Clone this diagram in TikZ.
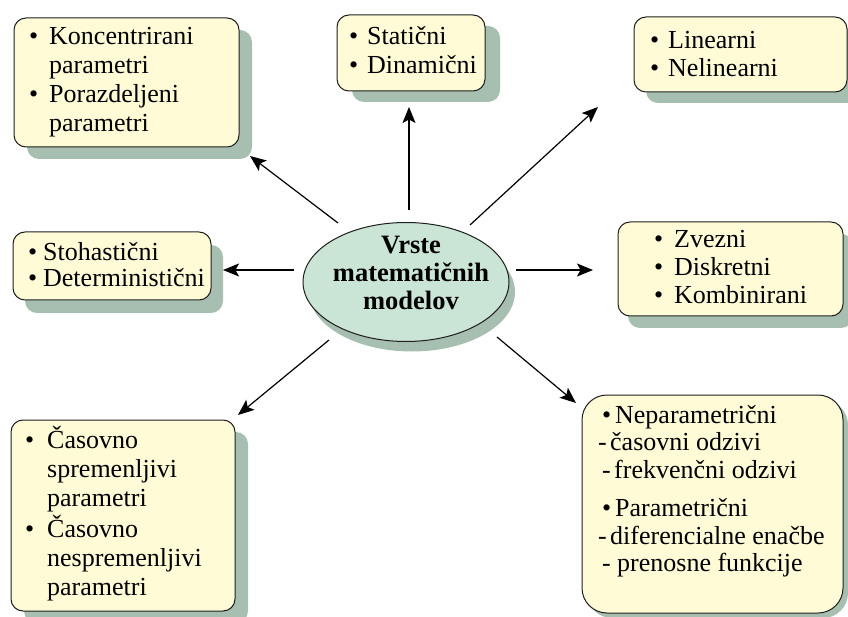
\documentclass[tikz,border=0pt]{standalone}
\usepackage{fontspec}
\setmainfont{Liberation Serif}
\usetikzlibrary{arrows.meta,shadows,shapes.geometric}
\definecolor{boxfill}{RGB}{255,251,214}
\definecolor{shadowc}{RGB}{166,191,176}
\definecolor{ellfill}{RGB}{202,229,213}
\definecolor{linec}{RGB}{30,30,30}
\newcommand\mybul[1]{\makebox[#1][l]{\textbullet}}
\newcommand\mydash[1]{\makebox[#1][l]{-}}
\begin{document}
\begin{tikzpicture}[x=1pt,y=-1pt,
  cbox/.style args={#1/#2}{draw=linec, line width=1pt, fill=boxfill, rounded corners=12pt, inner sep=0pt,
     drop shadow={shadow xshift=#1pt, shadow yshift=-#2pt, fill=shadowc, opacity=1}},
  ell/.style={ellipse, draw=linec, line width=1pt, fill=ellfill, inner sep=0pt,
     drop shadow={shadow xshift=6pt, shadow yshift=-10pt, fill=shadowc, opacity=1}},
  txt/.style={anchor=base west, inner sep=0pt, font=\fontsize{26}{29}\selectfont},
  conn/.style={-{Stealth[length=16pt,width=13pt,inset=3.5pt]}, line width=1.2pt, draw=black}]
\useasboundingbox (0,0) rectangle (848,617);

% boxes
\node[cbox=13/12, minimum width=225pt, minimum height=129pt] (b1) at (126.5,82.5) {};
\node[cbox=15/11, minimum width=148pt, minimum height=76pt] (b2) at (411,53) {};
\node[cbox=12/11, minimum width=213pt, minimum height=75pt] (b3) at (740.5,54.5) {};
\node[cbox=12/13, minimum width=198pt, minimum height=68pt] (b4) at (112,266) {};
\node[cbox=10/12, minimum width=225pt, minimum height=94pt] (b6) at (730.5,269) {};
\node[cbox=13/12, minimum width=224pt, minimum height=191pt] (b7) at (123,515.5) {};
\node[cbox=5/5, rounded corners=25pt, minimum width=261pt, minimum height=218pt] (b8) at (712.5,504) {};

% ellipse
\node[ell, minimum width=206pt, minimum height=119pt] (e) at (406,282) {};
\node[anchor=base, inner sep=0pt, font=\fontsize{26.5}{28}\selectfont\bfseries] (et) at (411,254)
  {\begin{tabular}[t]{@{}c@{}}Vrste\\matematičnih\\modelov\end{tabular}};

% texts
\node[txt] (t1) at (29,45) {\begin{tabular}[t]{@{}l@{}}\mybul{20pt}Koncentrirani\\\hspace{20pt}parametri\\\mybul{20pt}Porazdeljeni\\\hspace{20pt}parametri\end{tabular}};
\node[txt] (t2) at (349,45) {\begin{tabular}[t]{@{}l@{}}\mybul{18pt}Statični\\\mybul{18pt}Dinamični\end{tabular}};
\node[txt, font=\fontsize{26}{28}\selectfont] (t3) at (650,49) {\begin{tabular}[t]{@{}l@{}}\mybul{18pt}Linearni\\\mybul{18pt}Nelinearni\end{tabular}};
\node[txt, font=\fontsize{26}{24.5}\selectfont] (t4) at (28,261) {\begin{tabular}[t]{@{}l@{}}\mybul{15pt}Stohastični\\\mybul{15pt}Deterministični\end{tabular}};
\node[txt, font=\fontsize{26}{28}\selectfont] (t6) at (654,248) {\begin{tabular}[t]{@{}l@{}}\mybul{20pt}Zvezni\\\mybul{20pt}Diskretni\\\mybul{20pt}Kombinirani\end{tabular}};
\node[txt] (t7) at (25,448) {\begin{tabular}[t]{@{}l@{}}\mybul{22pt}Časovno\\\hspace{22pt}spremenljivi\\\hspace{22pt}parametri\\\mybul{22pt}Časovno\\\hspace{22pt}nespremenljivi\\\hspace{22pt}parametri\end{tabular}};
\node[txt, font=\fontsize{26}{27.5}\selectfont] (t8) at (602,423) {\begin{tabular}[t]{@{}l@{}}\mybul{13pt}Neparametrični\\\hspace{-4pt}\mydash{12pt}časovni odzivi\\\mydash{12pt}frekvenčni odzivi\\[11pt]\mybul{13pt}Parametrični\\\hspace{-4pt}\mydash{12pt}diferencialne enačbe\\\mydash{15pt}prenosne funkcije\end{tabular}};

% connectors
\coordinate (a1s) at (338,223); \coordinate (a1e) at (250,156);
\coordinate (a2s) at (409,210); \coordinate (a2e) at (409,107);
\coordinate (a3s) at (470,225); \coordinate (a3e) at (598,107);
\coordinate (a4s) at (294,270); \coordinate (a4e) at (223,270);
\coordinate (a5s) at (516,270); \coordinate (a5e) at (593,270);
\coordinate (a6s) at (329,340); \coordinate (a6e) at (238,415);
\coordinate (a7s) at (497,337); \coordinate (a7e) at (576,403);
\draw[conn] (a1s) -- (a1e);
\draw[conn] (a2s) -- (a2e);
\draw[conn] (a3s) -- (a3e);
\draw[conn] (a4s) -- (a4e);
\draw[conn] (a5s) -- (a5e);
\draw[conn] (a6s) -- (a6e);
\draw[conn] (a7s) -- (a7e);
\end{tikzpicture}
\end{document}
